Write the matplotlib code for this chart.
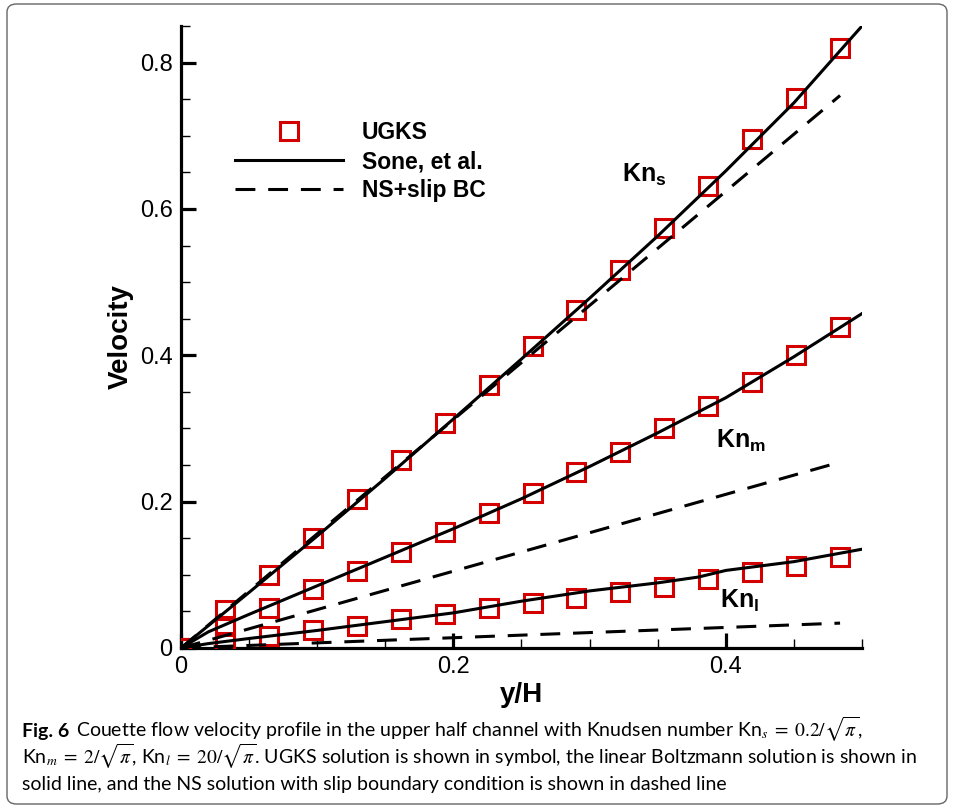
import numpy as np
import matplotlib
matplotlib.use("Agg")
import matplotlib.pyplot as plt
from matplotlib.lines import Line2D
from matplotlib.patches import FancyBboxPatch

plt.rcParams['font.family'] = ['Liberation Sans', 'DejaVu Sans']
plt.rcParams['mathtext.fontset'] = 'custom'
plt.rcParams['mathtext.rm'] = 'Liberation Sans'
plt.rcParams['mathtext.bf'] = 'Liberation Sans:bold'
plt.rcParams['mathtext.it'] = 'Liberation Sans:italic'

# ---- data ----
ugks_x = [0.0, 0.0323, 0.0645, 0.0968, 0.1290, 0.1613, 0.1935, 0.2258,
          0.2581, 0.2903, 0.3226, 0.3548, 0.3871, 0.4194, 0.4516, 0.4839]
ugks_s = [0.0, 0.052, 0.100, 0.150, 0.204, 0.257, 0.308, 0.360,
          0.413, 0.462, 0.517, 0.574, 0.632, 0.696, 0.752, 0.820]
ugks_m = [0.0, 0.030, 0.054, 0.080, 0.105, 0.131, 0.158, 0.185,
          0.212, 0.241, 0.268, 0.300, 0.331, 0.364, 0.401, 0.439]
ugks_l = [0.0, 0.008, 0.016, 0.024, 0.030, 0.039, 0.046, 0.054,
          0.061, 0.068, 0.076, 0.083, 0.094, 0.104, 0.112, 0.124]

sone_s_x = [0.0, 0.05, 0.10, 0.15, 0.20, 0.25, 0.30, 0.35, 0.40, 0.45, 0.50]
sone_s_y = [0.0, 0.076, 0.153, 0.232, 0.313, 0.395, 0.478, 0.563, 0.652, 0.745, 0.850]
sone_m_x = [0.0, 0.02, 0.05, 0.10, 0.15, 0.20, 0.25, 0.30, 0.35, 0.40, 0.45, 0.50]
sone_m_y = [0.0, 0.022, 0.046, 0.085, 0.124, 0.163, 0.204, 0.248, 0.294, 0.342, 0.398, 0.457]
sone_l_x = [0.0, 0.02, 0.05, 0.10, 0.15, 0.20, 0.25, 0.30, 0.35, 0.38, 0.40, 0.45, 0.50]
sone_l_y = [0.0, 0.006, 0.013, 0.024, 0.036, 0.048, 0.064, 0.078, 0.089, 0.097, 0.106, 0.118, 0.135]

ns_x = [0.0, 0.4839]
ns_s = [0.0, 0.755]
ns_m = [0.0, 0.254]
ns_l = [0.0, 0.034]

legend_labels = ['UGKS', 'Sone, et al.', 'NS+slip BC']
xticks = [0, 0.2, 0.4]
yticks = [0, 0.2, 0.4, 0.6, 0.8]
xtick_labels = ['0', '0.2', '0.4']
ytick_labels = ['0', '0.2', '0.4', '0.6', '0.8']

# ---- figure ----
fig = plt.figure(figsize=(9.54, 8.09), dpi=100)
ax = fig.add_axes([181/954, 1-648/809, (862-181)/954, (648-26)/809])

red = '#d40000'
lw = 2.2
dash = (0, (6.5, 4.2))
mk = dict(marker='s', ms=13, mfc='none', mec=red, mew=2.2, ls='none', zorder=3)

for yy in (ugks_s, ugks_m, ugks_l):
    ax.plot(ugks_x, yy, **mk)
for xx, yy in ((sone_s_x, sone_s_y), (sone_m_x, sone_m_y), (sone_l_x, sone_l_y)):
    ax.plot(xx, yy, color='black', lw=lw, zorder=4)
for yy in (ns_s, ns_m, ns_l):
    ax.plot(ns_x, yy, color='black', lw=lw, ls=dash, zorder=4)

ax.set_xlim(0, 0.5)
ax.set_ylim(0, 0.85)
ax.spines['top'].set_visible(False)
ax.spines['right'].set_visible(False)
for s in ('left', 'bottom'):
    ax.spines[s].set_linewidth(2.3)
ax.set_xticks(xticks)
ax.set_xticklabels(xtick_labels)
ax.set_yticks(yticks)
ax.set_yticklabels(ytick_labels)
ax.set_xticks(np.arange(0, 0.5001, 0.05), minor=True)
ax.set_yticks(np.arange(0, 0.8501, 0.05), minor=True)
ax.tick_params(which='major', direction='in', length=11, width=2.3, labelsize=17, pad=6)
ax.tick_params(which='minor', direction='in', length=6.5, width=1.0)
ax.set_xlabel('y/H', fontsize=20, fontweight='bold', labelpad=3)
ax.set_ylabel('Velocity', fontsize=20, fontweight='bold', labelpad=4)

ax.text(0.324, 0.637, r'$\mathbf{Kn_s}$', fontsize=18, va='baseline')
ax.text(0.393, 0.2735, r'$\mathbf{Kn_m}$', fontsize=18, va='baseline')
ax.text(0.396, 0.0547, r'$\mathbf{Kn_l}$', fontsize=18, va='baseline')

handles = [Line2D([], [], **mk),
           Line2D([], [], color='black', lw=lw),
           Line2D([], [], color='black', lw=lw, ls=dash)]
leg = ax.legend(handles, legend_labels, loc='upper left',
                bbox_to_anchor=(224/954, 1-110/809), bbox_transform=fig.transFigure,
                frameon=False, handlelength=4.7, handletextpad=0.8,
                labelspacing=0.25, borderpad=0.0,
                prop={'weight': 'bold', 'size': 16.5})

# border
fig.patches.append(FancyBboxPatch((7/954, 5/809), (947-7)/954, (805-5)/809,
                                  boxstyle='round,pad=0,rounding_size=0.01',
                                  transform=fig.transFigure, fill=False,
                                  ec='#666666', lw=1.0))

# caption
cap_font = ['Lato', 'DejaVu Sans']
cs = 14
fig.canvas.draw()
r = fig.canvas.get_renderer()
t0 = fig.text(22/954, 1-737/809, 'Fig. 6', fontsize=cs, fontweight='bold',
              family=cap_font, va='baseline')
bb = t0.get_window_extent(r)
fig.text((bb.x1 + 7)/954, 1-737/809,
         r'Couette flow velocity profile in the upper half channel with Knudsen number Kn$_s\;=\;0.2/\sqrt{\pi}$,',
         fontsize=cs, family=cap_font, va='baseline', math_fontfamily='stix')
fig.text(22/954, 1-764/809,
         r'Kn$_m\;=\;2/\sqrt{\pi}$, Kn$_l\;=\;20/\sqrt{\pi}$. UGKS solution is shown in symbol, the linear Boltzmann solution is shown in',
         fontsize=cs, family=cap_font, va='baseline', math_fontfamily='stix')
fig.text(22/954, 1-790/809,
         'solid line, and the NS solution with slip boundary condition is shown in dashed line',
         fontsize=cs, family=cap_font, va='baseline')

fig.savefig('out.png', dpi=100)
